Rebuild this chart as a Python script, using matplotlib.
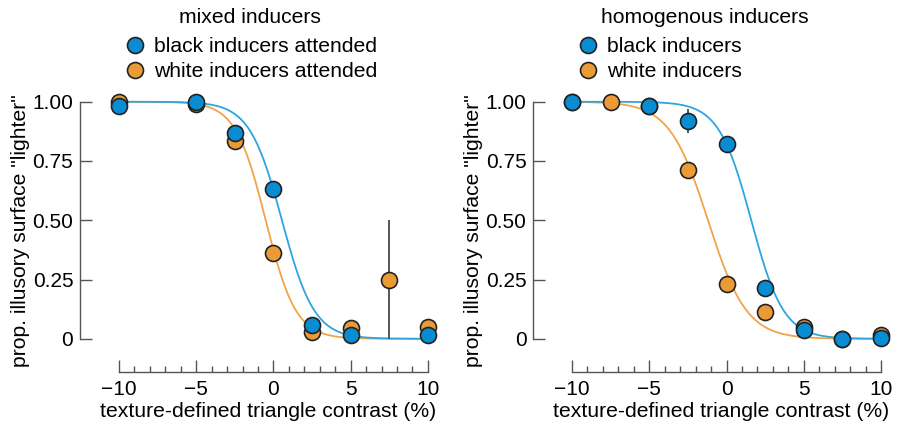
import numpy as np
import matplotlib
matplotlib.use("Agg")
import matplotlib.pyplot as plt
from matplotlib.ticker import FixedLocator

plt.rcParams['font.family'] = ['Liberation Sans', 'DejaVu Sans']

# contrast levels (%)
x_mixed_blue = [-10, -5, -2.5, 0, 2.5, 5, 10]
x_mixed_orange = [-10, -5, -2.5, 0, 2.5, 5, 7.5, 10]
x_homog = [-10, -7.5, -5, -2.5, 0, 2.5, 5, 7.5, 10]
x_homog_blue = [-10, -5, -2.5, 0, 2.5, 5, 7.5, 10]

# proportions "lighter"
mixed_black = [0.98, 1.00, 0.87, 0.63, 0.06, 0.015, 0.015]
mixed_black_err = [0.0, 0.0, 0.01, 0.0, 0.0, 0.0, 0.0]
mixed_white = [1.00, 0.99, 0.835, 0.36, 0.03, 0.045, 0.25, 0.05]
mixed_white_err = [0.0, 0.0, 0.01, 0.0, 0.0, 0.01, 0.25, 0.0]

homog_black = [1.00, 0.98, 0.92, 0.82, 0.215, 0.035, 0.0, 0.005]
homog_black_err = [0.0, 0.0, 0.05, 0.0, 0.0, 0.0, 0.0, 0.0]
homog_white = [1.00, 1.00, 0.98, 0.71, 0.23, 0.115, 0.05, 0.0, 0.017]
homog_white_err = [0.0, 0.0, 0.0, 0.0, 0.0, 0.02, 0.0, 0.0, 0.0]

# logistic fit parameters (threshold, spread)
fit_mixed_black = (0.55, 1.05)
fit_mixed_white = (-0.5, 0.98)
fit_homog_black = (1.6, 1.05)
fit_homog_white = (-1.2, 1.25)

minor_ticks = list(range(-10, 11))

BLUE = '#0a8cd2'
ORANGE = '#eb9b36'
BLUE_LINE = '#2ea5e0'
ORANGE_LINE = '#f2a446'
GREY = '#555555'
FS = 15.2


def logistic(x, p):
    mu, s = p
    return 1.0 / (1.0 + np.exp((x - mu) / s))


def panel(ax, xb, yb, eb, xw, yw, ew, fb, fw, title, labels, title_x):
    xs = np.linspace(-10, 10, 400)
    ax.plot(xs, logistic(xs, fw), color=ORANGE_LINE, lw=1.3, zorder=1)
    ax.plot(xs, logistic(xs, fb), color=BLUE_LINE, lw=1.3, zorder=1)
    ax.errorbar(xw, yw, yerr=ew, fmt='none', ecolor=GREY, elinewidth=1.4, zorder=2)
    ax.errorbar(xb, yb, yerr=eb, fmt='none', ecolor=GREY, elinewidth=1.4, zorder=2)
    ho, = ax.plot(xw, yw, 'o', ms=11.5, mfc=ORANGE, mec='#222222', mew=1.2, zorder=3)
    hb, = ax.plot(xb, yb, 'o', ms=11.5, mfc=BLUE, mec='#222222', mew=1.2, zorder=4)

    ax.set_xlim(-12.55, 10.6)
    ax.set_ylim(-0.14, 1.05)
    for s in ['top', 'right']:
        ax.spines[s].set_visible(False)
    ax.spines['left'].set_bounds(0, 1)
    ax.spines['bottom'].set_bounds(-10, 10)
    for s in ['left', 'bottom']:
        ax.spines[s].set_color(GREY)
        ax.spines[s].set_linewidth(1.0)
    ax.set_xticks([-10, -5, 0, 5, 10])
    ax.set_xticklabels(['\u221210', '\u22125', '0', '5', '10'])
    ax.xaxis.set_minor_locator(FixedLocator(minor_ticks))
    ax.set_yticks([0, 0.25, 0.5, 0.75, 1.0])
    ax.set_yticklabels(['0', '0.25', '0.50', '0.75', '1.00'])
    ax.tick_params(axis='both', which='major', direction='in', length=8.5,
                   width=1.0, color=GREY, labelsize=15, pad=4.5)
    ax.tick_params(axis='x', which='major', pad=5.5)
    ax.tick_params(axis='x', which='minor', direction='in', length=4.3,
                   width=1.0, color=GREY)
    ax.set_xlabel('texture-defined triangle contrast (%)', fontsize=FS)
    ax.xaxis.set_label_coords(0.528, -0.108)
    ax.set_ylabel('prop. illusory surface "lighter"', fontsize=FS, labelpad=2)

    ax.legend([hb, ho], labels, loc='lower left', bbox_to_anchor=(0.12, 1.03),
              frameon=False, fontsize=FS, handletextpad=0.3, labelspacing=0.3,
              borderpad=0, borderaxespad=0, markerscale=1.0, handlelength=1.2)
    ax.text(title_x, 1.255, title, transform=ax.transAxes, ha='center',
            va='center', fontsize=FS)


fig = plt.figure(figsize=(8.97, 4.34), dpi=100)
ax1 = fig.add_axes([0.0887, 0.1429, 0.3987, 0.65])
ax2 = fig.add_axes([0.5938, 0.1429, 0.3987, 0.65])

panel(ax1, x_mixed_blue, mixed_black, mixed_black_err,
      x_mixed_orange, mixed_white, mixed_white_err,
      fit_mixed_black, fit_mixed_white, 'mixed inducers',
      ['black inducers attended', 'white inducers attended'], 0.476)
panel(ax2, x_homog_blue, homog_black, homog_black_err,
      x_homog, homog_white, homog_white_err,
      fit_homog_black, fit_homog_white, 'homogenous inducers',
      ['black inducers', 'white inducers'], 0.482)

fig.savefig('out.png', dpi=100)
